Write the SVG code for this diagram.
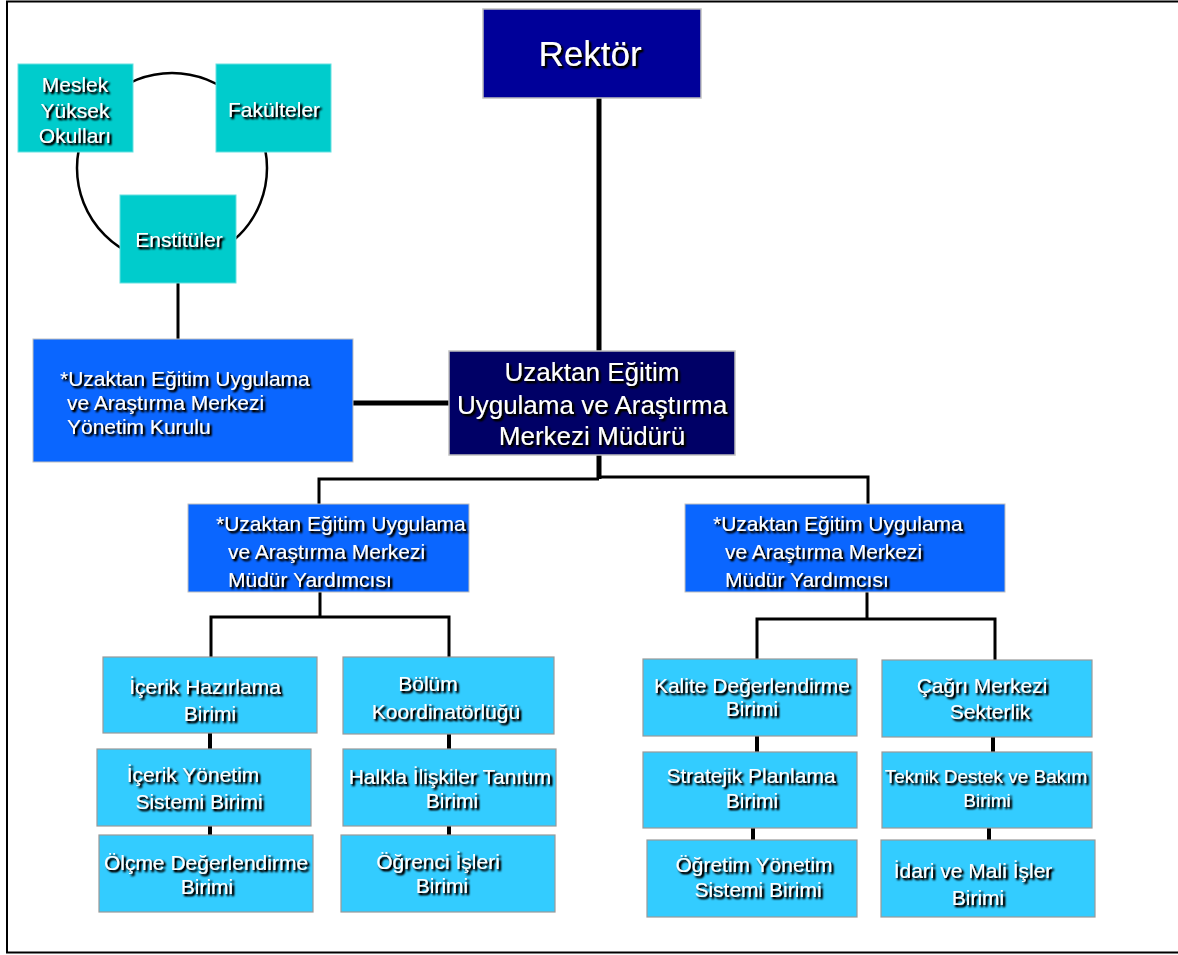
<svg xmlns="http://www.w3.org/2000/svg" width="1178" height="955" viewBox="0 0 1178 955">
<defs>
<filter id="sh" x="-10%" y="-30%" width="120%" height="160%">
<feGaussianBlur in="SourceAlpha" stdDeviation="1.2" result="b"/>
<feOffset in="b" dx="1.5" dy="1.5" result="o"/>
<feComponentTransfer in="o" result="o2"><feFuncA type="linear" slope="1.6"/></feComponentTransfer>
<feMerge><feMergeNode in="o2"/><feMergeNode in="SourceGraphic"/></feMerge>
</filter>
</defs>
<style>
text{font-family:"Liberation Sans",Arial,sans-serif;fill:#fff;filter:url(#sh)}
.c{text-anchor:middle}
.t{font-size:21px}
.teal{fill:#00cccc;stroke:#66e0e0;stroke-width:1}
.nav{fill:#000099;stroke:#c0c0c0;stroke-width:1.5}
.dk{fill:#000066;stroke:#c0c0c0;stroke-width:1.5}
.bl{fill:#0a66ff;stroke:#c0c0c0;stroke-width:1}
.lb{fill:#33ccff;stroke:#999;stroke-width:1.2}
.ln{stroke:#000;fill:none}
</style>
<rect x="7" y="1.5" width="1185" height="951" fill="#fff" stroke="#000" stroke-width="2"/>
<g id="connectors">
<circle class="ln" cx="172" cy="168" r="95" stroke-width="2.5"/>
<line class="ln" x1="178" y1="283" x2="178" y2="339" stroke-width="3"/>
<line class="ln" x1="599" y1="97" x2="599" y2="352" stroke-width="5"/>
<line class="ln" x1="352" y1="403" x2="449" y2="403" stroke-width="5"/>
<line class="ln" x1="599" y1="455" x2="599" y2="479" stroke-width="5"/>
<polyline class="ln" points="319,504 319,479 599,479" stroke-width="3"/>
<polyline class="ln" points="599,477 868,477 868,504" stroke-width="3"/>
<line class="ln" x1="320" y1="592" x2="320" y2="617" stroke-width="3"/>
<polyline class="ln" points="211,657 211,617 449,617 449,657" stroke-width="3"/>
<line class="ln" x1="867" y1="592" x2="867" y2="619" stroke-width="3"/>
<polyline class="ln" points="757,659 757,619 995,619 995,660" stroke-width="3"/>
<line class="ln" x1="210" y1="733" x2="210" y2="749" stroke-width="4"/>
<line class="ln" x1="210" y1="826" x2="210" y2="835" stroke-width="4"/>
<line class="ln" x1="449" y1="734" x2="449" y2="749" stroke-width="4"/>
<line class="ln" x1="449" y1="826" x2="449" y2="835" stroke-width="4"/>
<line class="ln" x1="757" y1="736" x2="757" y2="752" stroke-width="4"/>
<line class="ln" x1="753" y1="828" x2="753" y2="840" stroke-width="4"/>
<line class="ln" x1="993" y1="737" x2="993" y2="752" stroke-width="4"/>
<line class="ln" x1="989" y1="828" x2="989" y2="840" stroke-width="4"/>
</g>
<g id="rektor"><rect class="nav" x="483" y="9" width="218" height="89"/><text class="c" x="590" y="66" font-size="35">Rektör</text></g>
<g id="meslek"><rect class="teal" x="18" y="64" width="115" height="88"/><text class="c t" x="75" y="92">Meslek</text><text class="c t" x="75" y="118">Yüksek</text><text class="c t" x="75" y="143">Okulları</text></g>
<g id="fakulteler"><rect class="teal" x="216" y="64" width="115" height="88"/><text class="c t" x="274" y="117">Fakülteler</text></g>
<g id="enstituler"><rect class="teal" x="120" y="195" width="116" height="88"/><text class="c t" x="179" y="247">Enstitüler</text></g>
<g id="yonetim-kurulu"><rect class="bl" x="33" y="339" width="320" height="123"/><text class="t" x="60" y="386">*Uzaktan Eğitim Uygulama</text><text class="t" x="67" y="410">ve Araştırma Merkezi</text><text class="t" x="67" y="434">Yönetim Kurulu</text></g>
<g id="mudur"><rect class="dk" x="449" y="351" width="286" height="104"/><text class="c" x="592" y="381" font-size="26">Uzaktan Eğitim</text><text class="c" x="592" y="414" font-size="26">Uygulama ve Araştırma</text><text class="c" x="592" y="445" font-size="26">Merkezi Müdürü</text></g>
<g id="mudur-yrd-1"><rect class="bl" x="188" y="504" width="281" height="88"/><text class="t" x="216" y="531">*Uzaktan Eğitim Uygulama</text><text class="t" x="228" y="559">ve Araştırma Merkezi</text><text class="t" x="228" y="587">Müdür Yardımcısı</text></g>
<g id="mudur-yrd-2"><rect class="bl" x="685" y="504" width="320" height="88"/><text class="t" x="713" y="531">*Uzaktan Eğitim Uygulama</text><text class="t" x="725" y="559">ve Araştırma Merkezi</text><text class="t" x="725" y="587">Müdür Yardımcısı</text></g>
<g id="icerik-hazirlama"><rect class="lb" x="103" y="657" width="214" height="76"/><text class="c t" x="205" y="694">İçerik Hazırlama</text><text class="c t" x="210" y="721">Birimi</text></g>
<g id="icerik-yonetim"><rect class="lb" x="97" y="749" width="214" height="77"/><text class="c t" x="193" y="782">İçerik Yönetim</text><text class="c t" x="199" y="809">Sistemi Birimi</text></g>
<g id="olcme"><rect class="lb" x="99" y="835" width="214" height="77"/><text class="c t" x="206" y="870">Ölçme Değerlendirme</text><text class="c t" x="207" y="894">Birimi</text></g>
<g id="bolum"><rect class="lb" x="343" y="657" width="211" height="77"/><text class="c t" x="428" y="691">Bölüm</text><text class="c t" x="446" y="719">Koordinatörlüğü</text></g>
<g id="halkla"><rect class="lb" x="343" y="749" width="213" height="77"/><text class="c t" x="450" y="784">Halkla İlişkiler Tanıtım</text><text class="c t" x="452" y="808">Birimi</text></g>
<g id="ogrenci"><rect class="lb" x="341" y="835" width="214" height="77"/><text class="c t" x="438" y="869">Öğrenci İşleri</text><text class="c t" x="442" y="893">Birimi</text></g>
<g id="kalite"><rect class="lb" x="643" y="659" width="214" height="77"/><text class="c t" x="752" y="693">Kalite Değerlendirme</text><text class="c t" x="752" y="716">Birimi</text></g>
<g id="stratejik"><rect class="lb" x="643" y="752" width="214" height="76"/><text class="c t" x="751" y="783">Stratejik Planlama</text><text class="c t" x="752" y="808">Birimi</text></g>
<g id="ogretim"><rect class="lb" x="647" y="840" width="210" height="77"/><text class="c t" x="754" y="872">Öğretim Yönetim</text><text class="c t" x="758" y="897">Sistemi Birimi</text></g>
<g id="cagri"><rect class="lb" x="882" y="660" width="210" height="77"/><text class="c t" x="982" y="693">Çağrı Merkezi</text><text class="c t" x="990" y="719">Sekterlik</text></g>
<g id="teknik"><rect class="lb" x="882" y="752" width="210" height="76"/><text class="c" x="986" y="783" font-size="19">Teknik Destek ve Bakım</text><text class="c" x="987" y="807" font-size="19">Birimi</text></g>
<g id="idari"><rect class="lb" x="881" y="840" width="214" height="77"/><text class="c t" x="973" y="878">İdari ve Mali İşler</text><text class="c t" x="978" y="905">Birimi</text></g>
</svg>
